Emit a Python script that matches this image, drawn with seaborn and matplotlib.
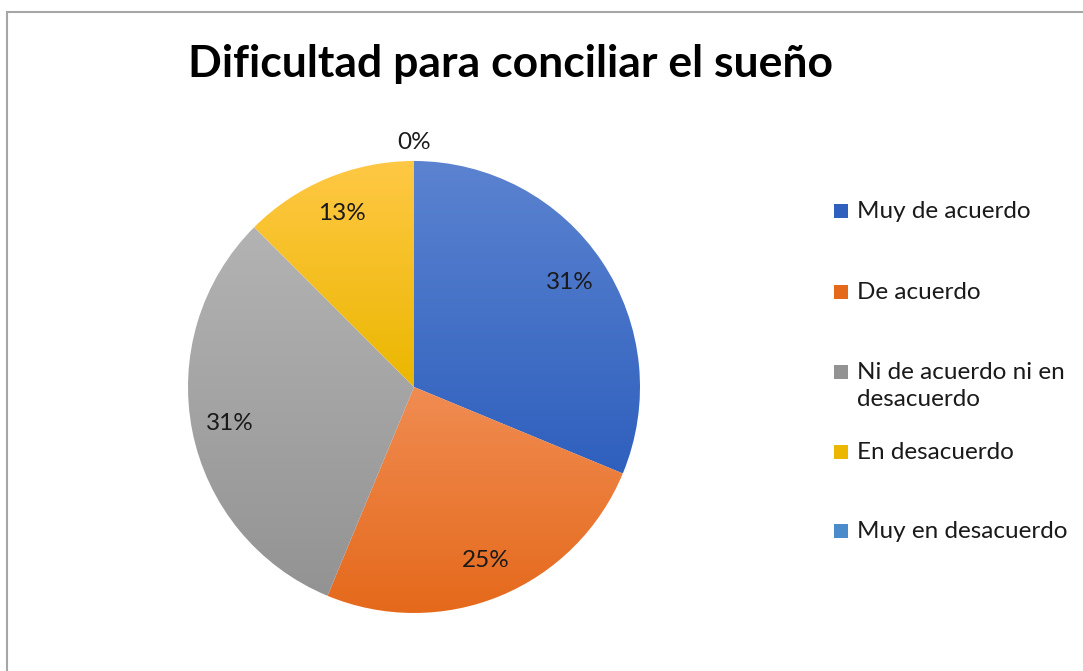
import matplotlib
matplotlib.use("Agg")
import matplotlib.pyplot as plt
from matplotlib.colors import LinearSegmentedColormap
from matplotlib.patches import Rectangle
import numpy as np
import seaborn as sns

sns.set_theme(style="white")
plt.rcParams['font.family'] = ['Lato', 'DejaVu Sans']

# data (counts read as percentages 31/25/31/13/0)
categories = ['Muy de acuerdo', 'De acuerdo', 'Ni de acuerdo ni en\ndesacuerdo',
              'En desacuerdo', 'Muy en desacuerdo']
counts = [5, 4, 5, 2, 0]
pct_labels = ['31%', '25%', '31%', '13%', '0%']
top_colors = ['#5B83D0', '#F08C52', '#B3B3B3', '#FFC845', '#6AA5DB']
bottom_colors = ['#2F60BE', '#E5691B', '#939393', '#EBB700', '#4A8CCB']

W, H = 1083, 671
fig = plt.figure(figsize=(W / 100, H / 100), dpi=100)

# chart border (only left / top visible in the crop)
fig.patches.append(Rectangle((7 / W, -0.1), 1.2, (H - 12) / H + 0.1,
                             transform=fig.transFigure, fill=False,
                             edgecolor='#A6A6A6', linewidth=1.5))

cx, cy, R = 414, 387, 226
ax = fig.add_axes([(cx - R) / W, (H - cy - R) / H, 2 * R / W, 2 * R / H])
ax.set_xlim(-1, 1)
ax.set_ylim(-1, 1)
ax.axis('off')

wedges, _ = ax.pie(counts, startangle=90, counterclock=False, radius=1,
                   colors=top_colors, wedgeprops=dict(linewidth=0))

# vertical gradient inside every slice
for w, c0, c1 in zip(wedges, top_colors, bottom_colors):
    if w.theta2 - w.theta1 <= 0:
        continue
    th = np.radians(np.linspace(w.theta1, w.theta2, 200))
    xs = np.concatenate([[0], np.cos(th)])
    ys = np.concatenate([[0], np.sin(th)])
    cmap = LinearSegmentedColormap.from_list('g', [c1, c0])
    grad = np.linspace(0, 1, 256).reshape(-1, 1)
    im = ax.imshow(grad, cmap=cmap, origin='lower', aspect='auto',
                   extent=(xs.min(), xs.max(), ys.min(), ys.max()), zorder=2)
    im.set_clip_path(w)
    w.set_facecolor('none')

# percentage labels
total = sum(counts)
ang = 90
for v, lab in zip(counts, pct_labels):
    span = 360 * v / total
    mid = np.radians(ang - span / 2)
    d = 1.08 if v == 0 else 0.83
    ax.text(d * np.cos(mid), d * np.sin(mid), lab, ha='center', va='center',
            fontsize=17.5, color='#1a1a1a', zorder=5)
    ang -= span
ax.set_xlim(-1, 1)
ax.set_ylim(-1, 1)

fig.text(511 / W, 1 - 64 / H, 'Dificultad para conciliar el sueño', ha='center',
         va='center', fontsize=32, fontweight='bold', color='black')

# legend
ys_leg = [211, 292, 372, 452, 531]
for lab, c0, c1, y in zip(categories, top_colors, bottom_colors, ys_leg):
    fig.patches.append(Rectangle((834 / W, 1 - (y + 7) / H), 14 / W, 14 / H,
                                 transform=fig.transFigure, facecolor=c1,
                                 edgecolor='none'))
    fig.text(857 / W, 1 - (y - 10) / H, lab, ha='left', va='top', fontsize=17.5,
             color='#1a1a1a', linespacing=1.35)

fig.savefig('out.png', dpi=100)
